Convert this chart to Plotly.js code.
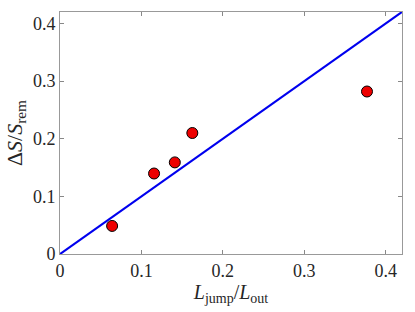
<!DOCTYPE html>
<html><head><meta charset="utf-8">
<script src="https://cdn.plot.ly/plotly-3.0.1.min.js"></script>
<style>html,body{margin:0;padding:0;background:#fff;}#c{width:415px;height:312px;}</style>
</head><body><div id="c"></div>
<script>
const xData = [0.064, 0.1155, 0.141, 0.1625, 0.377];
const yData = [0.0487, 0.1397, 0.159, 0.21, 0.282];
const lineX = [0, 0.42];
const lineY = [0, 0.42];
const tickVals = [0, 0.1, 0.2, 0.3, 0.4];
const tickText = ['0', '0.1', '0.2', '0.3', '0.4'];
const fam = 'Liberation Serif, DejaVu Serif, serif';
const font = {family: fam, size: 18, color: '#262626'};
const axisCommon = {
  range: [0, 0.42], tickvals: tickVals, ticktext: tickText,
  ticks: 'inside', ticklen: 4, tickcolor: '#888', tickwidth: 1,
  showline: true, linecolor: '#999', linewidth: 1, mirror: 'allticks',
  showgrid: false, zeroline: false, tickfont: font
};
Plotly.newPlot('c', [
  {x: lineX, y: lineY, mode: 'lines', line: {color: '#0000ee', width: 2.2}, hoverinfo: 'none'},
  {x: xData, y: yData, mode: 'markers', marker: {color: '#ee0000', size: 11, line: {color: '#000', width: 1}}}
], {
  width: 415, height: 312, showlegend: false,
  margin: {l: 60, r: 13, t: 12, b: 58},
  paper_bgcolor: '#fff', plot_bgcolor: '#fff', font: font,
  xaxis: Object.assign({}, axisCommon, {title: {text: '<i>L</i><sub>jump</sub>/<i>L</i><sub>out</sub>', font: {family: fam, size: 20, color: '#262626'}, standoff: 4}}),
  yaxis: Object.assign({}, axisCommon, {title: {text: 'Δ<i>S</i>/<i>S</i><sub>rem</sub>', font: {family: fam, size: 22, color: '#262626'}, standoff: 4}})
}, {staticPlot: true});
</script></body></html>
